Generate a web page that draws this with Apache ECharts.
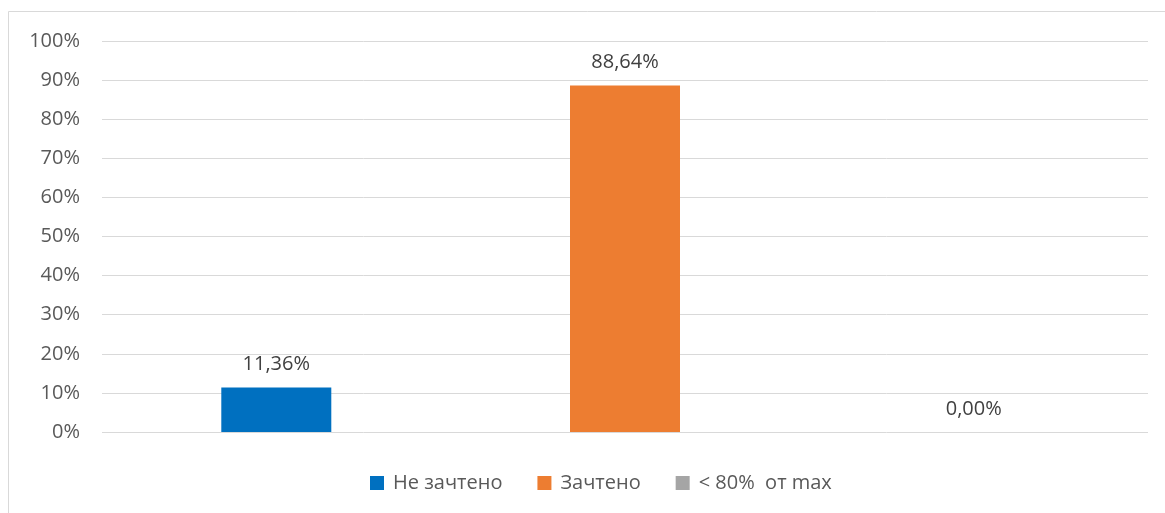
<!DOCTYPE html>
<html>
<head>
<meta charset="utf-8">
<script src="https://cdn.jsdelivr.net/npm/echarts@6/dist/echarts.min.js"></script>
<style>html,body{margin:0;padding:0;background:#fff;}#c{width:1165px;height:513px;}</style>
</head>
<body>
<div id="c"></div>
<script>
const categories = [''];
const seriesNames = ['Не зачтено', 'Зачтено', '< 80%  от max'];
const seriesValues = [[11.36], [88.64], [0.00]];
const seriesColors = ['#0070C0', '#ED7D31', '#A5A5A5'];
const yTicks = [0, 10, 20, 30, 40, 50, 60, 70, 80, 90, 100];

const FONT = '"Open Sans", "Liberation Sans", sans-serif';
const chart = echarts.init(document.getElementById('c'), null, {renderer: 'canvas'});
const fmt = v => v.toFixed(2).replace('.', ',') + '%';

chart.setOption({
  animation: false,
  backgroundColor: '#ffffff',
  graphic: [{
    type: 'rect', silent: true, z: -10,
    shape: {x: 8.5, y: 11.5, width: 1300, height: 700},
    style: {fill: 'none', stroke: '#d9d9d9', lineWidth: 1}
  }],
  grid: {left: 102, right: 17, top: 41, bottom: 81, containLabel: false},
  legend: {
    top: 468, left: 365,
    itemWidth: 14, itemHeight: 14, itemGap: 35,
    icon: 'rect',
    textStyle: {fontFamily: FONT, fontSize: 20, color: '#595959', padding: [0, 0, 0, 4]},
    data: seriesNames
  },
  xAxis: {
    type: 'category', data: categories,
    axisLine: {show: false}, axisTick: {show: false}, axisLabel: {show: false}
  },
  yAxis: {
    type: 'value', min: yTicks[0], max: yTicks[yTicks.length - 1], interval: 10,
    axisLine: {show: false}, axisTick: {show: false},
    axisLabel: {fontFamily: FONT, fontSize: 20, color: '#595959', margin: 22, formatter: v => v + '%'},
    splitLine: {lineStyle: {color: '#d9d9d9', width: 1}}
  },
  series: seriesNames.map((n, i) => ({
    name: n, type: 'bar', data: seriesValues[i],
    barWidth: 110, barGap: '217%',
    itemStyle: {color: seriesColors[i]},
    label: {show: true, position: 'top', distance: 13, fontFamily: FONT, fontSize: 20, color: '#404040',
      formatter: p => fmt(p.value)}
  }))
});
</script>
</body>
</html>
